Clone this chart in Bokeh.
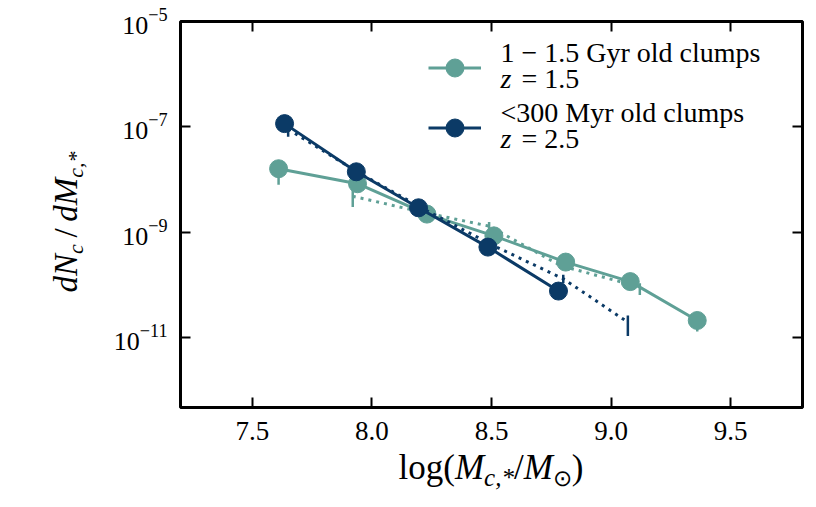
import math

from bokeh.plotting import figure
from bokeh.layouts import row, column
from bokeh.models import (ColumnDataSource, Range1d, FixedTicker, LinearAxis, LogAxis,
                          Label, Legend, LegendItem, NumeralTickFormatter, Div)
from bokeh.embed import file_html
from bokeh.resources import INLINE

# ---- clump stellar-mass functions -------------------------------------------
# 1 - 1.5 Gyr old clumps at z = 1.5
old_x = [7.61, 7.94, 8.23, 8.51, 8.81, 9.08, 9.36]
old_y = [1.6e-8, 8.3e-9, 2.2e-9, 8.5e-10, 2.7e-10, 1.15e-10, 2.1e-11]
old_lo = [7.9e-9, 7.0e-9, 2.0e-9, 7.8e-10, 2.4e-10, 1.0e-10, 1.3e-11]
old_hi = [1.7e-8, 9.0e-9, 2.4e-9, 9.3e-10, 3.0e-10, 1.25e-10, 2.2e-11]

# alternative estimate for the same population (dotted)
old_alt_x = [7.92, 8.21, 8.49, 8.79, 9.12]
old_alt_y = [4.8e-9, 2.4e-9, 1.3e-9, 2.3e-10, 9.1e-11]
old_alt_lo = [3.0e-9, 2.2e-9, 1.1e-9, 2.1e-10, 6.4e-11]
old_alt_hi = [7.6e-9, 2.6e-9, 1.55e-9, 2.5e-10, 1.07e-10]

# <300 Myr old clumps at z = 2.5
young_x = [7.635, 7.935, 8.195, 8.485, 8.78]
young_y = [1.15e-7, 1.4e-8, 2.9e-9, 5.2e-10, 7.6e-11]
young_lo = [1.05e-7, 1.3e-8, 2.7e-9, 4.8e-10, 7.0e-11]
young_hi = [1.25e-7, 1.5e-8, 3.1e-9, 5.6e-10, 8.2e-11]

# alternative estimate for the young population (dotted)
young_alt_x = [7.65, 7.95, 8.22, 8.51, 8.80, 9.07]
young_alt_y = [9.0e-8, 1.3e-8, 2.7e-9, 5.5e-10, 1.3e-10, 1.95e-11]
young_alt_lo = [6.5e-8, 1.2e-8, 2.5e-9, 5.0e-10, 1.07e-10, 1.07e-11]
young_alt_hi = [1.0e-7, 1.4e-8, 2.9e-9, 6.0e-10, 1.55e-10, 2.6e-11]

series_labels = ["1 \u2212 1.5 Gyr old clumps", "<300 Myr old clumps"]
series_z = ["= 1.5", "= 2.5"]

x_ticks = [7.5, 8.0, 8.5, 9.0, 9.5]
y_ticks = [1e-11, 1e-9, 1e-7, 1e-5]

TEAL = "#5fa096"
NAVY = "#0b3a66"
FONT = "Liberation Serif"

# ---- figure -------------------------------------------------------------------
p = figure(width=716, height=451,
           x_range=Range1d(7.2, 9.8), y_range=Range1d(10 ** -12.33, 1e-5),
           y_axis_type="log", output_backend="svg", toolbar_location=None,
           min_border_left=80, min_border_right=14,
           min_border_top=21, min_border_bottom=44)
p.grid.visible = False
p.background_fill_color = "white"
p.border_fill_color = "white"
p.outline_line_color = "black"
p.outline_line_width = 3


def style_axis(ax, show_labels):
    ax.axis_line_color = None
    ax.major_tick_in = 10
    ax.major_tick_out = 0
    ax.major_tick_line_width = 2
    ax.major_tick_line_color = "black"
    ax.minor_tick_line_color = None
    if show_labels:
        ax.major_label_text_font = FONT
        ax.major_label_text_font_size = "27px"
        ax.major_label_text_color = "black"
    else:
        ax.major_label_text_font_size = "1px"
        ax.major_label_text_color = None
        ax.major_label_standoff = 0


p.xaxis.ticker = FixedTicker(ticks=x_ticks)
p.xaxis.formatter = NumeralTickFormatter(format="0.0")
style_axis(p.xaxis[0], True)
p.xaxis.major_label_standoff = 14

p.yaxis.ticker = FixedTicker(ticks=y_ticks)
style_axis(p.yaxis[0], True)
p.yaxis.major_label_text_font_size = "26px"
p.yaxis.major_label_standoff = 13

top = LinearAxis(ticker=FixedTicker(ticks=x_ticks))
style_axis(top, False)
p.add_layout(top, "above")
right = LogAxis(ticker=FixedTicker(ticks=y_ticks))
style_axis(right, False)
p.add_layout(right, "right")


def draw_series(xs, ys, lo, hi, color, dotted):
    src = ColumnDataSource(dict(x=xs, y=ys, lo=lo, hi=hi))
    p.segment(x0="x", y0="lo", x1="x", y1="hi", source=src,
              line_color=color, line_width=2.5)
    if dotted:
        return p.line("x", "y", source=src, line_color=color, line_width=3,
                      line_dash="3 5"), None
    ln = p.line("x", "y", source=src, line_color=color, line_width=3)
    mk = p.scatter("x", "y", source=src, marker="circle", size=18,
                   fill_color=color, line_color=color)
    return ln, mk


draw_series(old_alt_x, old_alt_y, old_alt_lo, old_alt_hi, TEAL, True)
old_line, old_mk = draw_series(old_x, old_y, old_lo, old_hi, TEAL, False)
draw_series(young_alt_x, young_alt_y, young_alt_lo, young_alt_hi, NAVY, True)
young_line, young_mk = draw_series(young_x, young_y, young_lo, young_hi, NAVY, False)

# legend handles; the two-line entry texts are set as labels next to them
legend = Legend(items=[LegendItem(label=" ", renderers=[old_line, old_mk]),
                       LegendItem(label=" ", renderers=[young_line, young_mk])],
                location=(248, 257.5), glyph_width=53, glyph_height=45,
                label_height=45, label_standoff=0, label_width=1, spacing=15,
                padding=0, margin=0, border_line_color=None,
                background_fill_alpha=0, label_text_font_size="1px")
p.add_layout(legend)

for i, (name, zt) in enumerate(zip(series_labels, series_z)):
    top_base = 355 - 60 * i
    p.add_layout(Label(x=320, y=top_base, x_units="screen", y_units="screen",
                       text=name, text_font=FONT, text_font_size="28px",
                       text_color="black", text_baseline="alphabetic"))
    p.add_layout(Label(x=320, y=top_base - 26, x_units="screen", y_units="screen",
                       text="z", text_font=FONT, text_font_size="28px",
                       text_font_style="italic", text_color="black",
                       text_baseline="alphabetic"))
    p.add_layout(Label(x=341, y=top_base - 26, x_units="screen", y_units="screen",
                       text=zt, text_font=FONT, text_font_size="28px",
                       text_color="black", text_baseline="alphabetic"))

# ---- axis titles (HTML, so sub-scripts and italics can be typeset) ----------
SUB = "position:relative;top:{d}px;font-size:{s}px;font-style:italic"

x_title = Div(
    text=("<div style=\"position:relative;width:716px;height:56px;\">"
          "<div style=\"position:absolute;left:391px;top:-1px;transform:translateX(-50%);"
          "white-space:nowrap;font-family:'Liberation Serif';font-size:35px;"
          "line-height:35px;color:black;\">"
          "log(<i>M</i><span style=\"" + SUB.format(d=7, s=25) + "\">c,*</span>"
          "/<i>M</i><span style=\"position:relative;top:7px;font-size:23px;\">\u2299</span>)"
          "</div></div>"),
    width=716, height=56, margin=0)

y_title = Div(
    text=("<div style=\"position:relative;width:100px;height:507px;\">"
          "<div style=\"position:absolute;left:68px;top:222px;"
          "transform:translate(-50%,-50%) rotate(-90deg);"
          "white-space:nowrap;font-family:'Liberation Serif';font-size:33px;"
          "line-height:33px;color:black;\">"
          "<i>dN</i><span style=\"" + SUB.format(d=6, s=22) + "\">c</span>"
          "&thinsp;/&thinsp;<i>dM</i><span style=\"" + SUB.format(d=6, s=22) + "\">c,*</span>"
          "</div></div>"),
    width=100, height=507, margin=0)

layout = row(y_title, column(p, x_title, spacing=0), spacing=0)

open("out.html", "w").write(file_html(layout, INLINE))
